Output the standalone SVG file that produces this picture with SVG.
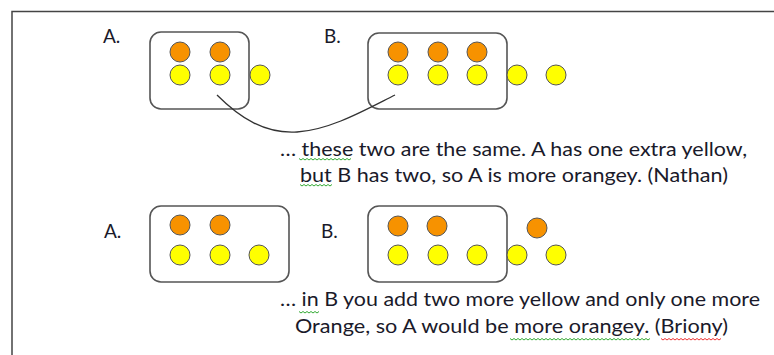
<svg xmlns="http://www.w3.org/2000/svg" width="774" height="355" viewBox="0 0 774 355">
<style>
.frame{fill:none;stroke:#444;stroke-width:1.5}
.box{fill:#fff;stroke:#555;stroke-width:1.6}
.or{fill:#F79200;stroke:#555;stroke-width:1}
.ye{fill:#FFFF00;stroke:#555;stroke-width:1}
.lbl{font-family:Lato,"Liberation Sans",Arial,sans-serif;font-size:19px;fill:#1a1a2a}
.txt{font-family:Lato,"Liberation Sans",Arial,sans-serif;font-size:18.5px;fill:#1a1a2a}
.conn{fill:none;stroke:#333;stroke-width:1.3}
.sqg{fill:none;stroke:#3a3;stroke-width:1}
.sqr{fill:none;stroke:#e33;stroke-width:1}
</style>
<rect width="774" height="355" fill="#fff"/>
<path class="frame" d="M12,355 V11.5 H774"/>

<g id="topA">
<text class="lbl" x="103" y="43">A.</text>
<rect class="box" x="150" y="32" width="99" height="77" rx="11"/>
<circle class="or" cx="180" cy="52" r="10"/>
<circle class="or" cx="220" cy="52" r="10"/>
<circle class="ye" cx="180" cy="75" r="10"/>
<circle class="ye" cx="220" cy="75" r="10"/>
<circle class="ye" cx="260" cy="75" r="10"/>
</g>

<g id="topB">
<text class="lbl" x="324" y="43">B.</text>
<rect class="box" x="368" y="33" width="139" height="76" rx="11"/>
<circle class="or" cx="398" cy="52" r="10"/>
<circle class="or" cx="438" cy="52" r="10"/>
<circle class="or" cx="477" cy="52" r="10"/>
<circle class="ye" cx="398" cy="75" r="10"/>
<circle class="ye" cx="438" cy="75" r="10"/>
<circle class="ye" cx="477" cy="75" r="10"/>
<circle class="ye" cx="517" cy="75" r="10"/>
<circle class="ye" cx="556" cy="75" r="10"/>
</g>

<g id="connectors">
<path class="conn" d="M217,95 C240,118 265,134 297,132 C330,130 365,110 395,95"/>
</g>

<g id="note1">
<text class="txt" x="280" y="156" textLength="467" lengthAdjust="spacingAndGlyphs">… these two are the same. A has one extra yellow,</text>
<text class="txt" x="300" y="182" textLength="428" lengthAdjust="spacingAndGlyphs">but B has two, so A is more orangey. (Nathan)</text>
<path class="sqg" d="M299,158.5 l2,1.5 l2,-1.5 l2,1.5 l2,-1.5 l2,1.5 l2,-1.5 l2,1.5 l2,-1.5 l2,1.5 l2,-1.5 l2,1.5 l2,-1.5 l2,1.5 l2,-1.5 l2,1.5 l2,-1.5 l2,1.5 l2,-1.5 l2,1.5 l2,-1.5 l2,1.5 l2,-1.5 l2,1.5 l2,-1.5 l2,1.5 l2,-1.5"/>
<path class="sqg" d="M300,184.5 l2,1.5 l2,-1.5 l2,1.5 l2,-1.5 l2,1.5 l2,-1.5 l2,1.5 l2,-1.5 l2,1.5 l2,-1.5 l2,1.5 l2,-1.5 l2,1.5 l2,-1.5 l2,1.5 l2,-1.5"/>
</g>

<g id="bottomA">
<text class="lbl" x="104" y="238">A.</text>
<rect class="box" x="150" y="206" width="139" height="76" rx="11"/>
<circle class="or" cx="180" cy="225" r="10"/>
<circle class="or" cx="220" cy="225" r="10"/>
<circle class="ye" cx="180" cy="255" r="10"/>
<circle class="ye" cx="220" cy="255" r="10"/>
<circle class="ye" cx="259" cy="255" r="10"/>
</g>

<g id="bottomB">
<text class="lbl" x="321" y="238">B.</text>
<rect class="box" x="368" y="206" width="139" height="76" rx="11"/>
<circle class="or" cx="398" cy="226" r="10"/>
<circle class="or" cx="437" cy="226" r="10"/>
<circle class="or" cx="537" cy="228" r="10"/>
<circle class="ye" cx="398" cy="255" r="10"/>
<circle class="ye" cx="438" cy="255" r="10"/>
<circle class="ye" cx="477" cy="255" r="10"/>
<circle class="ye" cx="517" cy="255" r="10"/>
<circle class="ye" cx="556" cy="255" r="10"/>
</g>

<g id="note2">
<text class="txt" x="280" y="306" textLength="480" lengthAdjust="spacingAndGlyphs">… in B you add two more yellow and only one more</text>
<text class="txt" x="295" y="333" textLength="433" lengthAdjust="spacingAndGlyphs">Orange, so A would be more orangey. (Briony)</text>
<path class="sqg" d="M299,311.5 l2,1.5 l2,-1.5 l2,1.5 l2,-1.5 l2,1.5 l2,-1.5 l2,1.5 l2,-1.5 l2,1.5 l2,-1.5"/>
<path class="sqg" d="M510,338.5 l2,1.5 l2,-1.5 l2,1.5 l2,-1.5 l2,1.5 l2,-1.5 l2,1.5 l2,-1.5 l2,1.5 l2,-1.5 l2,1.5 l2,-1.5 l2,1.5 l2,-1.5 l2,1.5 l2,-1.5 l2,1.5 l2,-1.5 l2,1.5 l2,-1.5 l2,1.5 l2,-1.5 l2,1.5 l2,-1.5 l2,1.5 l2,-1.5 l2,1.5 l2,-1.5 l2,1.5 l2,-1.5 l2,1.5 l2,-1.5 l2,1.5 l2,-1.5 l2,1.5 l2,-1.5 l2,1.5 l2,-1.5 l2,1.5 l2,-1.5 l2,1.5 l2,-1.5 l2,1.5 l2,-1.5 l2,1.5 l2,-1.5 l2,1.5 l2,-1.5 l2,1.5 l2,-1.5 l2,1.5 l2,-1.5 l2,1.5 l2,-1.5 l2,1.5 l2,-1.5 l2,1.5 l2,-1.5 l2,1.5 l2,-1.5 l2,1.5 l2,-1.5 l2,1.5 l2,-1.5 l2,1.5 l2,-1.5 l2,1.5 l2,-1.5 l2,1.5 l2,-1.5"/>
<path class="sqr" d="M661,338.5 l2,1.5 l2,-1.5 l2,1.5 l2,-1.5 l2,1.5 l2,-1.5 l2,1.5 l2,-1.5 l2,1.5 l2,-1.5 l2,1.5 l2,-1.5 l2,1.5 l2,-1.5 l2,1.5 l2,-1.5 l2,1.5 l2,-1.5 l2,1.5 l2,-1.5 l2,1.5 l2,-1.5 l2,1.5 l2,-1.5 l2,1.5 l2,-1.5 l2,1.5 l2,-1.5 l2,1.5 l2,-1.5"/>
</g>
</svg>
